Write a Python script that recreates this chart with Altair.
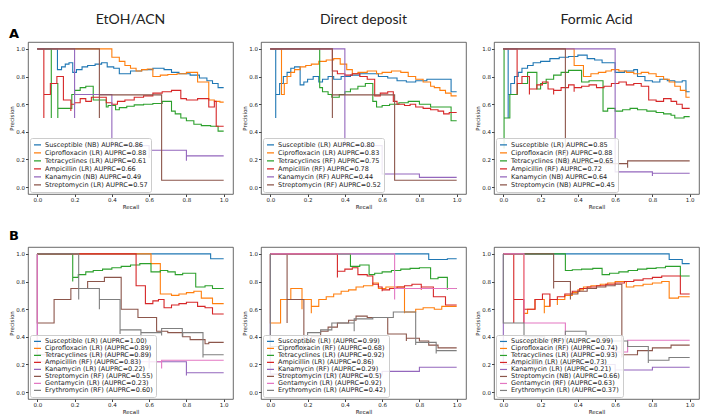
import altair as alt
import pandas as pd

TAB10 = ["#1f77b4", "#ff7f0e", "#2ca02c", "#d62728", "#9467bd", "#8c564b", "#e377c2", "#7f7f7f"]
W, H = 205, 152

# ---------------- Row A : EtOH/ACN ----------------
A1_LABELS = ["Susceptible (NB) AUPRC=0.86", "Ciprofloxacin (LR) AUPRC=0.88", "Tetracyclines (LR) AUPRC=0.61",
             "Ampicillin (LR) AUPRC=0.66", "Kanamycin (NB) AUPRC=0.49", "Streptomycin (LR) AUPRC=0.57"]
A1_SUSC = [(0, 1), (0.108, 1), (0.13, 0.85), (0.15, 0.87), (0.17, 0.89), (0.19, 0.90), (0.21, 0.83), (0.24, 0.85),
           (0.27, 0.87), (0.31, 0.88), (0.345, 0.89), (0.375, 0.90), (0.41, 0.87), (0.44, 0.86), (0.50, 0.82),
           (0.56, 0.84), (0.62, 0.85), (0.68, 0.86), (0.72, 0.85), (0.76, 0.83), (0.82, 0.82), (0.87, 0.81),
           (0.91, 0.79), (0.94, 0.77), (0.97, 0.75), (1.0, 0.72)]
A1_CIPRO = [(0, 1), (0.40, 1), (0.44, 0.94), (0.47, 0.91), (0.50, 0.88), (0.53, 0.86), (0.56, 0.84), (0.59, 0.85),
            (0.62, 0.855), (0.66, 0.80), (0.70, 0.81), (0.75, 0.815), (0.80, 0.82), (0.86, 0.83), (0.92, 0.76),
            (0.95, 0.63), (0.98, 0.62), (1.0, 0.615)]
A1_TETRA = [(0, 1), (0.075, 1), (0.075, 0.5), (0.11, 0.75), (0.11, 0.5), (0.15, 0.57), (0.185, 0.57), (0.20, 0.67),
            (0.23, 0.70), (0.26, 0.72), (0.30, 0.73), (0.37, 0.63), (0.38, 0.58), (0.42, 0.59), (0.44, 0.56),
            (0.48, 0.575), (0.52, 0.585), (0.57, 0.595), (0.62, 0.60), (0.67, 0.605), (0.72, 0.62), (0.74, 0.55),
            (0.77, 0.53), (0.80, 0.50), (0.84, 0.48), (0.88, 0.455), (0.93, 0.445), (0.97, 0.44), (0.97, 0.40),
            (1.0, 0.405)]
A1_AMP = [(0, 1), (0.035, 1), (0.035, 0.5), (0.07, 0.67), (0.105, 0.75), (0.14, 0.80), (0.18, 0.63), (0.18, 0.55),
          (0.20, 0.60), (0.23, 0.61), (0.26, 0.64), (0.29, 0.62), (0.33, 0.65), (0.37, 0.65), (0.40, 0.61),
          (0.43, 0.60), (0.47, 0.62), (0.52, 0.63), (0.57, 0.65), (0.62, 0.66), (0.67, 0.68), (0.72, 0.69),
          (0.77, 0.70), (0.80, 0.64), (0.86, 0.63), (0.92, 0.64), (0.95, 0.58), (0.96, 0.62), (0.96, 0.44),
          (1.0, 0.44)]
A1_KANA = [(0, 1), (0.2, 1), (0.2, 0.5), (0.4, 0.67), (0.6, 0.30), (0.6, 0.21), (0.8, 0.267), (0.8, 0.19),
           (1.0, 0.226)]
A1_STREP = [(0, 1), (0.333, 1), (0.333, 0.5), (0.667, 0.667), (1.0, 0.05)]

A2_LABELS = ["Susceptible (LR) AUPRC=0.80", "Ciprofloxacin (LR) AUPRC=0.83", "Tetracyclines (RF) AUPRC=0.75",
             "Ampicillin (RF) AUPRC=0.78", "Kanamycin (RF) AUPRC=0.44", "Streptomycin (RF) AUPRC=0.52"]
A2_SUSC = [(0, 1), (0.029, 1), (0.029, 0.5), (0.05, 0.67), (0.07, 0.75), (0.09, 0.80), (0.11, 0.83), (0.13, 0.86),
           (0.16, 0.87), (0.16, 0.79), (0.18, 0.74), (0.20, 0.76), (0.23, 0.78), (0.26, 0.80), (0.28, 0.76),
           (0.31, 0.78), (0.34, 0.80), (0.38, 0.78), (0.43, 0.80), (0.48, 0.81), (0.53, 0.82), (0.58, 0.82),
           (0.63, 0.80), (0.68, 0.79), (0.73, 0.77), (0.78, 0.76), (0.84, 0.77), (0.90, 0.78), (0.97, 0.78),
           (1.0, 0.69)]
A2_CIPRO = [(0, 1), (0.06, 1), (0.06, 0.67), (0.075, 0.67), (0.09, 0.75), (0.11, 0.80), (0.13, 0.83), (0.16, 0.85),
            (0.19, 0.87), (0.22, 0.88), (0.26, 0.89), (0.30, 0.91), (0.34, 0.92), (0.375, 0.93), (0.41, 0.89),
            (0.44, 0.85), (0.47, 0.82), (0.52, 0.83), (0.57, 0.84), (0.60, 0.82), (0.65, 0.83), (0.70, 0.84),
            (0.74, 0.83), (0.78, 0.80), (0.82, 0.78), (0.86, 0.76), (0.88, 0.73), (0.91, 0.72), (0.94, 0.70),
            (0.97, 0.68), (1.0, 0.66)]
A2_TETRA = [(0, 1), (0.265, 1), (0.28, 0.72), (0.31, 0.69), (0.33, 0.67), (0.37, 0.65), (0.40, 0.67), (0.43, 0.69),
            (0.47, 0.71), (0.51, 0.73), (0.55, 0.75), (0.57, 0.62), (0.60, 0.58), (0.64, 0.59), (0.69, 0.60),
            (0.74, 0.61), (0.80, 0.62), (0.86, 0.60), (0.90, 0.58), (0.97, 0.58), (0.97, 0.48), (1.0, 0.48)]
A2_AMP = [(0, 1), (0.333, 1), (0.36, 0.84), (0.40, 0.82), (0.44, 0.81), (0.48, 0.82), (0.52, 0.80), (0.56, 0.78),
          (0.59, 0.66), (0.63, 0.68), (0.66, 0.69), (0.68, 0.62), (0.72, 0.60), (0.75, 0.59), (0.78, 0.60),
          (0.82, 0.58), (0.86, 0.57), (0.90, 0.56), (0.93, 0.55), (0.96, 0.53), (1.0, 0.54)]
A2_KANA = [(0, 1), (0.4, 1), (0.6, 0.30), (0.8, 0.095), (1.0, 0.07)]
A2_STREP = [(0, 1), (0.333, 1), (0.333, 0.5), (0.667, 0.667), (1.0, 0.05)]

A3_LABELS = ["Susceptible (LR) AUPRC=0.85", "Ciprofloxacin (RF) AUPRC=0.88", "Tetracyclines (NB) AUPRC=0.65",
             "Ampicillin (RF) AUPRC=0.72", "Kanamycin (NB) AUPRC=0.64", "Streptomycin (NB) AUPRC=0.45"]
A3_SUSC = [(0, 1), (0.026, 1), (0.026, 0.5), (0.04, 0.67), (0.06, 0.75), (0.08, 0.80), (0.10, 0.83), (0.13, 0.86),
           (0.16, 0.88), (0.20, 0.90), (0.25, 0.91), (0.30, 0.93), (0.35, 0.94), (0.40, 0.945), (0.45, 0.955),
           (0.49, 0.93), (0.53, 0.92), (0.60, 0.90), (0.65, 0.83), (0.70, 0.84), (0.72, 0.85), (0.76, 0.80),
           (0.80, 0.77), (0.84, 0.76), (0.88, 0.78), (0.92, 0.77), (0.96, 0.76), (0.98, 0.77), (1.0, 0.69)]
A3_CIPRO = [(0, 1), (0.38, 1), (0.43, 0.88), (0.47, 0.80), (0.51, 0.82), (0.55, 0.83), (0.58, 0.84), (0.62, 0.85),
            (0.66, 0.84), (0.70, 0.83), (0.74, 0.82), (0.78, 0.83), (0.82, 0.82), (0.86, 0.80), (0.89, 0.78),
            (0.92, 0.76), (0.95, 0.73), (0.98, 0.70), (1.0, 0.65)]
A3_TETRA = [(0, 1), (0.004, 1), (0.004, 0.28), (0.035, 0.5), (0.075, 0.67), (0.13, 0.75), (0.18, 0.83), (0.20, 0.71),
            (0.23, 0.75), (0.27, 0.78), (0.31, 0.81), (0.35, 0.83), (0.42, 0.845), (0.46, 0.76), (0.50, 0.77),
            (0.535, 0.77), (0.56, 0.55), (0.60, 0.57), (0.64, 0.55), (0.68, 0.56), (0.72, 0.57), (0.77, 0.56),
            (0.82, 0.55), (0.86, 0.54), (0.90, 0.53), (0.92, 0.52), (0.97, 0.50), (1.0, 0.51)]
A3_AMP = [(0, 1), (0.074, 1), (0.074, 0.67), (0.10, 0.75), (0.14, 0.80), (0.14, 0.67), (0.18, 0.71), (0.21, 0.74),
          (0.24, 0.76), (0.27, 0.71), (0.27, 0.67), (0.31, 0.70), (0.35, 0.72), (0.38, 0.74), (0.38, 0.69),
          (0.42, 0.72), (0.46, 0.73), (0.50, 0.74), (0.54, 0.72), (0.58, 0.73), (0.62, 0.75), (0.66, 0.76),
          (0.70, 0.74), (0.74, 0.75), (0.78, 0.73), (0.82, 0.63), (0.86, 0.62), (0.90, 0.64), (0.93, 0.62),
          (0.96, 0.60), (0.97, 0.57), (1.0, 0.57)]
A3_KANA = [(0, 1), (0.6, 1), (0.8, 0.11), (0.8, 0.08), (1.0, 0.10)]
A3_STREP = [(0, 1), (0.333, 1), (0.667, 0.17), (0.667, 0.14), (1.0, 0.19)]

# ---------------- Row B ----------------
B1_LABELS = ["Susceptible (LR) (AUPRC=1.00)", "Ciprofloxacin (LR) (AUPRC=0.89)", "Tetracyclines (LR) (AUPRC=0.89)",
             "Ampicillin (RF) (AUPRC=0.83)", "Kanamycin (LR) (AUPRC=0.22)", "Streptomycin (RF) (AUPRC=0.55)",
             "Gentamycin (LR) (AUPRC=0.23)", "Erythromycin (RF) (AUPRC=0.60)"]
B1_SUSC = [(0, 1), (0.93, 1), (1.0, 0.965)]
B1_CIPRO = [(0, 1), (0.61, 1), (0.66, 0.93), (0.72, 0.71), (0.76, 0.70), (0.80, 0.71), (0.84, 0.72), (0.88, 0.73),
            (0.94, 0.68), (1.0, 0.64)]
B1_TETRA = [(0, 1), (0.19, 1), (0.19, 0.80), (0.22, 0.83), (0.26, 0.85), (0.30, 0.87), (0.35, 0.88), (0.40, 0.89),
            (0.45, 0.90), (0.50, 0.91), (0.55, 0.92), (0.61, 0.93), (0.66, 0.87), (0.70, 0.88), (0.74, 0.87),
            (0.78, 0.85), (0.85, 0.86), (0.90, 0.76), (0.94, 0.77), (0.95, 0.75), (1.0, 0.75)]
B1_AMP = [(0, 1), (0.53, 1), (0.58, 0.77), (0.62, 0.64), (0.65, 0.66), (0.68, 0.67), (0.72, 0.61), (0.76, 0.63),
          (0.80, 0.64), (0.86, 0.65), (0.90, 0.62), (0.94, 0.61), (1.0, 0.565)]
B1_KANA = [(0, 1), (0, 0.27), (0.6, 0.27), (0.6, 0.17), (0.8, 0.22), (0.8, 0.12), (1.0, 0.14)]
B1_STREP = [(0, 1), (0, 0.5), (0.09, 0.5), (0.18, 0.67), (0.27, 0.75), (0.36, 0.80), (0.45, 0.83), (0.54, 0.60),
            (0.64, 0.54), (0.70, 0.44), (0.78, 0.43), (0.82, 0.40), (0.90, 0.38), (0.92, 0.35), (1.0, 0.36)]
B1_GENTA = [(0, 1), (0, 0.23), (0.667, 0.22), (0.667, 0.17), (1.0, 0.23)]
B1_ERYTH = [(0, 1), (0.222, 1), (0.222, 0.67), (0.333, 0.75), (0.333, 0.60), (0.444, 0.67), (0.444, 0.42),
            (0.556, 0.45), (0.556, 0.38), (0.667, 0.43), (0.667, 0.41), (0.778, 0.46), (0.778, 0.40),
            (0.889, 0.43), (0.889, 0.25), (1.0, 0.27)]

B2_LABELS = ["Susceptible (LR) (AUPRC=0.99)", "Ciprofloxacin (RF) (AUPRC=0.68)", "Tetracyclines (LR) (AUPRC=0.92)",
             "Ampicillin (LR) (AUPRC=0.86)", "Kanamycin (RF) (AUPRC=0.29)", "Streptomycin (LR) (AUPRC=0.5)",
             "Gentamycin (LR) (AUPRC=0.92)", "Erythromycin (LR) (AUPRC=0.42)"]
B2_SUSC = [(0, 1), (0.85, 1), (0.95, 0.96), (1.0, 0.965)]
B2_CIPRO = [(0, 1), (0, 0.5), (0.055, 0.5), (0.11, 0.67), (0.17, 0.75), (0.17, 0.60), (0.22, 0.67), (0.22, 0.57),
            (0.26, 0.62), (0.30, 0.67), (0.34, 0.69), (0.38, 0.71), (0.42, 0.73), (0.46, 0.74), (0.50, 0.76),
            (0.55, 0.77), (0.58, 0.79), (0.62, 0.75), (0.66, 0.76), (0.72, 0.76), (0.72, 0.57), (0.78, 0.58),
            (0.82, 0.60), (0.88, 0.61), (0.92, 0.60), (1.0, 0.62)]
B2_TETRA = [(0, 1), (0.43, 1), (0.48, 0.91), (0.53, 0.92), (0.56, 0.85), (0.60, 0.86), (0.65, 0.87), (0.70, 0.88),
            (0.75, 0.89), (0.80, 0.895), (0.86, 0.90), (0.90, 0.82), (0.95, 0.83), (0.95, 0.74), (1.0, 0.75)]
B2_AMP = [(0, 1), (0.36, 1), (0.36, 0.83), (0.40, 0.875), (0.44, 0.89), (0.47, 0.90), (0.52, 0.85), (0.55, 0.84),
          (0.58, 0.78), (0.60, 0.76), (0.60, 0.73), (0.64, 0.74), (0.68, 0.75), (0.72, 0.76), (0.76, 0.77),
          (0.81, 0.78), (0.81, 0.74), (0.875, 0.76), (0.94, 0.69), (1.0, 0.63)]
B2_KANA = [(0, 1), (0, 0.13), (0.6, 0.13), (0.6, 0.12), (0.8, 0.15), (1.0, 0.18)]
B2_STREP = [(0, 1), (0.09, 1), (0.09, 0.5), (0.18, 0.67), (0.18, 0.30), (0.22, 0.36), (0.27, 0.40), (0.31, 0.44),
            (0.36, 0.47), (0.42, 0.50), (0.46, 0.52), (0.52, 0.55), (0.63, 0.54), (0.73, 0.42), (0.73, 0.37),
            (0.80, 0.39), (0.85, 0.37), (0.90, 0.34), (1.0, 0.32)]
B2_GENTA = [(0, 1), (0.667, 1), (0.667, 0.67), (1.0, 0.75)]
B2_ERYTH = [(0, 1), (0, 0.33), (0.2, 0.33), (0.27, 0.43), (0.33, 0.45), (0.39, 0.50), (0.45, 0.50), (0.45, 0.44),
            (0.55, 0.53), (0.66, 0.54), (0.78, 0.58), (0.78, 0.34), (0.89, 0.36), (0.89, 0.28), (1.0, 0.30)]

B3_LABELS = ["Susceptible (RF) (AUPRC=0.99)", "Ciprofloxacin (RF) (AUPRC=0.74)", "Tetracyclines (LR) (AUPRC=0.93)",
             "Ampicillin (LR) (AUPRC=0.73)", "Kanamycin (LR) (AUPRC=0.21)", "Streptomycin (NB) (AUPRC=0.66)",
             "Gentamycin (RF) (AUPRC=0.63)", "Erythromycin (LR) (AUPRC=0.37)"]
B3_SUSC = [(0, 1), (0.89, 1), (0.96, 0.96), (0.96, 0.94), (1.0, 0.93)]
B3_CIPRO = [(0, 1), (0.11, 1), (0.11, 0.5), (0.13, 0.57), (0.17, 0.60), (0.22, 0.67), (0.22, 0.57), (0.25, 0.62),
            (0.29, 0.67), (0.29, 0.63), (0.33, 0.67), (0.37, 0.70), (0.40, 0.72), (0.43, 0.74), (0.47, 0.76),
            (0.52, 0.77), (0.56, 0.78), (0.60, 0.79), (0.66, 0.80), (0.70, 0.76), (0.75, 0.77), (0.80, 0.78),
            (0.85, 0.79), (0.89, 0.80), (0.94, 0.68), (1.0, 0.69)]
B3_TETRA = [(0, 1), (0.333, 1), (0.37, 0.88), (0.42, 0.885), (0.48, 0.89), (0.53, 0.895), (0.57, 0.85),
            (0.62, 0.86), (0.67, 0.87), (0.72, 0.88), (0.77, 0.89), (0.82, 0.895), (0.87, 0.90), (0.95, 0.91),
            (1.0, 0.84)]
B3_AMP = [(0, 1), (0.056, 1), (0.056, 0.5), (0.11, 0.67), (0.11, 0.5), (0.17, 0.60), (0.21, 0.67), (0.25, 0.71),
          (0.25, 0.62), (0.29, 0.67), (0.33, 0.69), (0.37, 0.71), (0.41, 0.73), (0.45, 0.75), (0.50, 0.76),
          (0.55, 0.77), (0.60, 0.78), (0.65, 0.79), (0.70, 0.80), (0.75, 0.81), (0.80, 0.82), (0.85, 0.83),
          (0.90, 0.84), (0.95, 0.84), (1.0, 0.71)]
B3_KANA = [(0, 1), (0, 0.2), (0.6, 0.2), (0.6, 0.13), (0.8, 0.16), (1.0, 0.18)]
B3_STREP = [(0, 1), (0.27, 1), (0.27, 0.75), (0.36, 0.80), (0.36, 0.67), (0.40, 0.71), (0.45, 0.73), (0.50, 0.75),
            (0.55, 0.76), (0.60, 0.77), (0.636, 0.78), (0.636, 0.25), (0.72, 0.27), (0.80, 0.30), (0.90, 0.32),
            (1.0, 0.34)]
B3_GENTA = [(0, 1), (0.111, 1), (0.333, 0.5), (0.667, 0.29), (1.0, 0.375)]
B3_ERYTH = [(0, 1), (0, 0.5), (0.111, 0.5), (0.222, 0.40), (0.333, 0.38), (0.444, 0.44), (0.555, 0.40),
            (0.555, 0.36), (0.667, 0.37), (0.778, 0.33), (0.778, 0.21), (0.889, 0.23), (1.0, 0.25)]

PANELS = [
    ("EtOH/ACN", "A", A1_LABELS, [A1_SUSC, A1_CIPRO, A1_TETRA, A1_AMP, A1_KANA, A1_STREP]),
    ("Direct deposit", None, A2_LABELS, [A2_SUSC, A2_CIPRO, A2_TETRA, A2_AMP, A2_KANA, A2_STREP]),
    ("Formic Acid", None, A3_LABELS, [A3_SUSC, A3_CIPRO, A3_TETRA, A3_AMP, A3_KANA, A3_STREP]),
    (None, "B", B1_LABELS, [B1_SUSC, B1_CIPRO, B1_TETRA, B1_AMP, B1_KANA, B1_STREP, B1_GENTA, B1_ERYTH]),
    (None, None, B2_LABELS, [B2_SUSC, B2_CIPRO, B2_TETRA, B2_AMP, B2_KANA, B2_STREP, B2_GENTA, B2_ERYTH]),
    (None, None, B3_LABELS, [B3_SUSC, B3_CIPRO, B3_TETRA, B3_AMP, B3_KANA, B3_STREP, B3_GENTA, B3_ERYTH]),
]

TICKS = [0.0, 0.2, 0.4, 0.6, 0.8, 1.0]


def make_panel(title, tag, labels, curves):
    rows = []
    for lab, pts in zip(labels, curves):
        for i, (r, p) in enumerate(pts):
            rows.append({"label": lab, "recall": r, "precision": p, "i": i})
    df = pd.DataFrame(rows)
    clip_h = 7.8 if len(labels) == 6 else 6.9
    lines = alt.Chart(df).mark_line(interpolate="step-before", strokeWidth=1.1).encode(
        x=alt.X("recall:Q", scale=alt.Scale(domain=[-0.05, 1.05], nice=False, zero=False),
                axis=alt.Axis(values=TICKS, format=".1f", title="Recall")),
        y=alt.Y("precision:Q", scale=alt.Scale(domain=[-0.05, 1.05], nice=False, zero=False),
                axis=alt.Axis(values=TICKS, format=".1f", title="Precision")),
        color=alt.Color("label:N", sort=labels, title=None,
                        scale=alt.Scale(domain=labels, range=TAB10[:len(labels)]),
                        legend=alt.Legend(orient="bottom-left", offset=2, clipHeight=clip_h, rowPadding=0)),
        order=alt.Order("i:Q"),
    )
    layers = [lines]
    if title:
        ttl = pd.DataFrame({"ttl": [title]})
        layers.append(alt.Chart(ttl).mark_text(align="center", baseline="bottom", fontSize=14,
                                               font="Lato", color="#222").encode(
            x=alt.value(W / 2), y=alt.value(-15), text="ttl:N"))
    if tag:
        tdf = pd.DataFrame({"tag": [tag]})
        layers.append(alt.Chart(tdf).mark_text(align="left", baseline="bottom", fontSize=13,
                                               fontWeight="bold", font="DejaVu Sans", color="black").encode(
            x=alt.value(-19), y=alt.value(-1 if tag == "A" else -4), text="tag:N"))
    return alt.layer(*layers).properties(width=W, height=H)


charts = [make_panel(*p) for p in PANELS]

chart = alt.concat(*charts, columns=3, spacing={"row": 53, "column": 28}, bounds="flush").resolve_scale(
    color="independent").properties(padding={"top": 4, "left": 0, "right": 0, "bottom": 0}).configure_view(
    stroke="#444", strokeWidth=0.8).configure_axis(
    labelFontSize=5.5, titleFontSize=5.5, labelFont="DejaVu Sans", titleFont="DejaVu Sans",
    titleFontWeight="normal", tickSize=2.5, labelPadding=1, titlePadding=1, grid=False, domain=False,
    tickColor="#444", labelColor="#222", titleColor="#222").configure_legend(
    labelFontSize=6.5, labelFont="DejaVu Sans", labelColor="#222", symbolType="stroke", symbolSize=49,
    symbolStrokeWidth=1.2, padding=3, labelOffset=3, labelLimit=300,
    fillColor="rgba(255,255,255,0.85)", strokeColor="#cccccc", cornerRadius=2)

chart.save("out.html", embed_options={"renderer": "svg", "actions": False})
